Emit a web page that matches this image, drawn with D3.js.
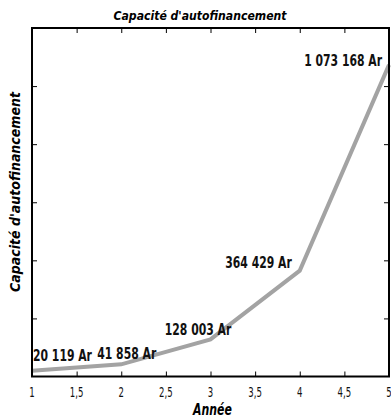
<!DOCTYPE html>
<html>
<head>
<meta charset="utf-8">
<script src="https://cdn.jsdelivr.net/npm/d3@7"></script>
<style>
  html, body { margin: 0; padding: 0; background: #fff; }
  svg { display: block; font-family: "DejaVu Sans Condensed", "Liberation Sans Narrow", sans-serif; }
</style>
</head>
<body>
<svg id="chart" width="391" height="419"></svg>
<script>
const years = [1, 2, 3, 4, 5];
const values = [20119, 41858, 128003, 364429, 1073168];
const valueLabels = ["20 119 Ar", "41 858 Ar", "128 003 Ar", "364 429 Ar", "1 073 168 Ar"];
const xTicks = [1, 1.5, 2, 2.5, 3, 3.5, 4, 4.5, 5];
const xTickLabels = ["1", "1,5", "2", "2,5", "3", "3,5", "4", "4,5", "5"];
const yTicks = [200000, 400000, 600000, 800000, 1000000];
const title = "Capacité d'autofinancement";
const xTitle = "Année";
const yTitle = "Capacité d'autofinancement";

const svg = d3.select("#chart");
const L = 32, R = 389, T = 28, B = 376.5;
const x = d3.scaleLinear().domain([1, 5]).range([L, R]);
const y = d3.scaleLinear().domain([0, 1200000]).range([B, T]);

// condensed text helper: anchor point, then horizontal squeeze
function addText(parent, px, py, str, o) {
  const g = parent.append("g")
    .attr("transform", `translate(${px},${py})` + (o.rotate ? ` rotate(${o.rotate})` : "") + ` scale(${o.sx},1)`);
  return g.append("text")
    .attr("x", 0).attr("y", 0)
    .attr("text-anchor", o.anchor || "middle")
    .attr("font-size", o.size)
    .attr("font-weight", o.weight || "normal")
    .attr("font-style", o.style || "normal")
    .attr("fill", o.fill || "#000")
    .text(str);
}

// line
svg.append("path")
  .datum(years.map((yr, i) => [yr, values[i]]))
  .attr("fill", "none")
  .attr("stroke", "#a3a3a3")
  .attr("stroke-width", 4)
  .attr("stroke-linejoin", "miter")
  .attr("d", d3.line().x(d => x(d[0])).y(d => y(d[1])));

// axes with inward ticks
const tl = 5;
const gB = svg.append("g").attr("transform", `translate(0,${B})`)
  .call(d3.axisBottom(x).tickValues(xTicks).tickSize(-tl).tickFormat(""));
const gT = svg.append("g").attr("transform", `translate(0,${T})`)
  .call(d3.axisTop(x).tickValues(xTicks).tickSize(-tl).tickFormat(""));
const gL = svg.append("g").attr("transform", `translate(${L},0)`)
  .call(d3.axisLeft(y).tickValues(yTicks).tickSize(-tl).tickFormat(""));
const gR = svg.append("g").attr("transform", `translate(${R},0)`)
  .call(d3.axisRight(y).tickValues(yTicks).tickSize(-tl).tickFormat(""));
[gB, gT, gL, gR].forEach(g => {
  g.select(".domain").remove();
  g.selectAll(".tick text").remove();
  g.selectAll(".tick line").attr("stroke", "#000").attr("stroke-width", 1);
});

// x tick labels (condensed)
const gTL = svg.append("g");
xTicks.forEach((t, i) => {
  addText(gTL, x(t), 396.5, xTickLabels[i], { size: 14, sx: 0.68, fill: "#111" });
});

// frame
svg.append("rect").attr("x", L).attr("y", T).attr("width", R - L).attr("height", B - T)
  .attr("fill", "none").attr("stroke", "#000").attr("stroke-width", 2);

// data labels
const place = [
  { anchor: "start", dx: 1, dy: -10 },
  { anchor: "middle", dx: 5.5, dy: -5 },
  { anchor: "middle", dx: -12.5, dy: -4.5 },
  { anchor: "end", dx: -8, dy: -3 },
  { anchor: "end", dx: -7, dy: 1 }
];
const gLab = svg.append("g");
values.forEach((v, i) => {
  addText(gLab, x(years[i]) + place[i].dx, y(v) + place[i].dy, valueLabels[i],
    { size: 16.5, weight: "bold", anchor: place[i].anchor, sx: 0.73, fill: "#111" });
});

// titles
addText(svg, 200, 19.5, title, { size: 12.5, weight: "bold", style: "italic", sx: 0.97 });
addText(svg, 212.5, 415, xTitle, { size: 15, weight: "bold", style: "italic", sx: 0.81 });
addText(svg, 19.5, 192, yTitle, { size: 14, weight: "bold", style: "italic", sx: 1.0, rotate: -90 });
</script>
</body>
</html>
